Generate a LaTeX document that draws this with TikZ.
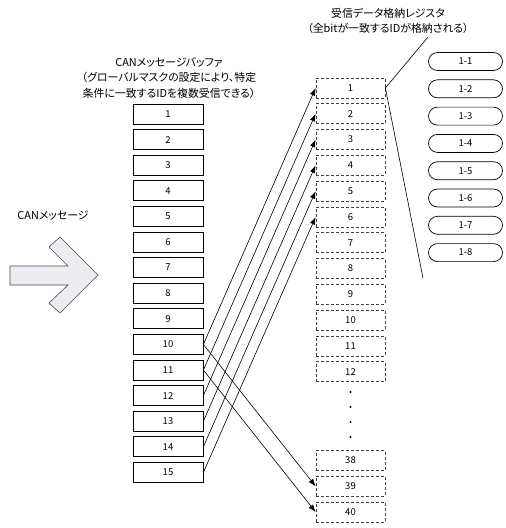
\documentclass[tikz,border=0pt]{standalone}
\usepackage{fontspec}
\setmainfont{Noto Sans CJK JP}[RawFeature=+palt]
\usetikzlibrary{arrows.meta}
\definecolor{arrowfill}{HTML}{ECEDF3}

\begin{document}
\begin{tikzpicture}[
  x=1pt, y=-1pt,
  buf/.style={draw, line width=0.8pt, minimum width=70pt, minimum height=20pt, inner sep=0pt, font=\fontsize{9.5}{10}\selectfont},
  reg/.style={draw=black!75, line width=0.8pt, dash pattern=on 3pt off 2pt, minimum width=69pt, minimum height=20pt, inner sep=0pt, font=\fontsize{9.5}{10}\selectfont},
  sub/.style={draw, line width=0.7pt, rounded corners=9pt, minimum width=74pt, minimum height=18pt, inner sep=0pt, font=\fontsize{9.5}{10}\selectfont},
  dot/.style={circle, fill, inner sep=0pt, minimum size=2.2pt},
  lbl/.style={align=center, font=\fontsize{10.9}{15.5}\selectfont},
  link/.style={-{Latex[length=7.5pt,width=5.5pt]}, line width=0.6pt}
]
  \useasboundingbox (0,0) rectangle (506,528);

  % labels
  \node[lbl] (lblreg) at (388,21) {受信データ格納レジスタ\\（全bitが一致するIDが格納される）};
  \node[lbl] (lblbuf) at (169,78) {CANメッセージバッファ\\（グローバルマスクの設定により、特定\\条件に一致するIDを複数受信できる）};
  \node[lbl] (lblmsg) at (53,216) {CANメッセージ};

  % incoming message arrow
  \draw[fill=arrowfill, draw=black!70, line width=0.6pt]
    (10,266) -- (68,266) -- (49,247) -- (60,237) -- (98,275) -- (60,313)
    -- (49,303) -- (68,285) -- (10,285) -- cycle;

  % message buffer
  \node[buf] (buf1) at (168,114) {1};   \node[buf] (buf2) at (168,139.6) {2};
  \node[buf] (buf3) at (168,165.2) {3}; \node[buf] (buf4) at (168,190.8) {4};
  \node[buf] (buf5) at (168,216.4) {5}; \node[buf] (buf6) at (168,242) {6};
  \node[buf] (buf7) at (168,267.6) {7}; \node[buf] (buf8) at (168,293.2) {8};
  \node[buf] (buf9) at (168,318.8) {9}; \node[buf] (buf10) at (168,344.4) {10};
  \node[buf] (buf11) at (168,370) {11}; \node[buf] (buf12) at (168,395.6) {12};
  \node[buf] (buf13) at (168,421.2) {13}; \node[buf] (buf14) at (168,446.8) {14};
  \node[buf] (buf15) at (168,472.4) {15};

  % receive registers
  \node[reg] (reg1) at (350.5,88) {1};     \node[reg] (reg2) at (350.5,113.8) {2};
  \node[reg] (reg3) at (350.5,139.6) {3};  \node[reg] (reg4) at (350.5,165.4) {4};
  \node[reg] (reg5) at (350.5,191.2) {5};  \node[reg] (reg6) at (350.5,217) {6};
  \node[reg] (reg7) at (350.5,242.8) {7};  \node[reg] (reg8) at (350.5,268.6) {8};
  \node[reg] (reg9) at (350.5,294.4) {9};  \node[reg] (reg10) at (350.5,320.2) {10};
  \node[reg] (reg11) at (350.5,346) {11};  \node[reg] (reg12) at (350.5,371.8) {12};
  \node[dot] (dot1) at (350.5,392) {};     \node[dot] (dot2) at (350.5,407) {};
  \node[dot] (dot3) at (350.5,422) {};     \node[dot] (dot4) at (350.5,437) {};
  \node[reg] (reg38) at (350.5,460.5) {38}; \node[reg] (reg39) at (350.5,486.3) {39};
  \node[reg] (reg40) at (350.5,512) {40};

  % contents of register 1
  \node[sub] (sub1) at (465.5,61.5) {1-1};  \node[sub] (sub2) at (465.5,88.8) {1-2};
  \node[sub] (sub3) at (465.5,116.1) {1-3}; \node[sub] (sub4) at (465.5,143.4) {1-4};
  \node[sub] (sub5) at (465.5,170.7) {1-5}; \node[sub] (sub6) at (465.5,198) {1-6};
  \node[sub] (sub7) at (465.5,225.3) {1-7}; \node[sub] (sub8) at (465.5,252.6) {1-8};

  \coordinate (brtop) at (428,37);
  \coordinate (brbot) at (423,278);
  \draw[line width=0.6pt] (brtop) -- (reg1.east) -- (brbot);

  % buffer -> register
  \draw[link] (buf10.east) -- (reg1.west);
  \draw[link] (buf11.east) -- (reg2.west);
  \draw[link] (buf12.east) -- (reg3.west);
  \draw[link] (buf13.east) -- (reg4.west);
  \draw[link] (buf14.east) -- (reg5.west);
  \draw[link] (buf15.east) -- (reg6.west);
  \draw[link] (buf10.east) -- (reg39.west);
  \draw[link] (buf11.east) -- (reg40.west);
\end{tikzpicture}
\end{document}
